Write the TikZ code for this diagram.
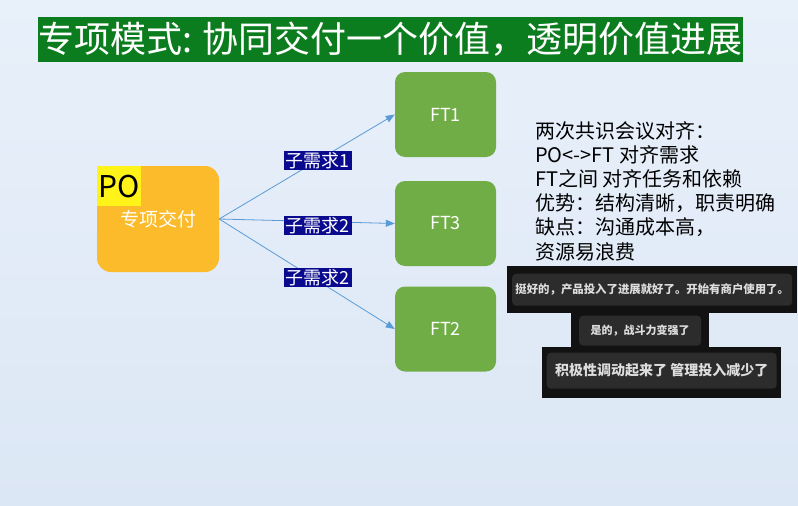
\documentclass[tikz,border=0pt]{standalone}
\usepackage{fontspec}
\setmainfont{Noto Sans CJK SC}
\usetikzlibrary{arrows.meta}
\definecolor{bgtop}{HTML}{E8F0FA}
\definecolor{bgbot}{HTML}{DCE7F5}
\definecolor{titlegreen}{HTML}{0C7D1E}
\definecolor{poorange}{HTML}{FBBB2A}
\definecolor{ftgreen}{HTML}{70AD47}
\definecolor{edgeblue}{HTML}{5B9BD5}
\definecolor{labnavy}{HTML}{0A0A8E}
\definecolor{chatouter}{HTML}{121212}
\definecolor{chatinner}{HTML}{2C2C2C}
\definecolor{chattext}{HTML}{DDDDDD}
\tikzset{
  ftbox/.style={draw=none,fill=ftgreen,rounded corners=10pt,minimum width=101pt,minimum height=85pt,text=white,font=\fontsize{18}{20}\selectfont,inner sep=0pt},
  sublabel/.style={fill=labnavy,text=white,font=\fontsize{18}{20}\selectfont,inner xsep=2pt,inner ysep=1pt,pos=0.56},
  conn/.style={draw=edgeblue,line width=0.8pt,-{Triangle[length=9pt,width=7pt]}},
  chatout/.style={fill=chatouter,draw=none,inner sep=0pt,anchor=north west},
  chatin/.style={fill=chatinner,draw=none,rounded corners=4pt,inner sep=0pt,text=chattext,font=\bfseries},
}
\begin{document}
\begin{tikzpicture}[x=1pt,y=-1pt]
\shade[top color=bgtop,bottom color=bgbot] (0,0) rectangle (798,506);
\useasboundingbox (0,0) rectangle (798,506);
% title
\node[fill=titlegreen,text=white,minimum width=705pt,minimum height=45pt,inner sep=0pt,font=\fontsize{36}{38}\selectfont] (title) at (390.5,39.5) {专项模式: 协同交付一个价值，透明价值进展};
% PO box
\node[fill=poorange,rounded corners=14pt,minimum width=122pt,minimum height=106pt,inner sep=0pt,text=white,font=\fontsize{19}{21}\selectfont] (po) at (158,219) {\raisebox{-6pt}{专项交付}};
\node[fill=yellow!90!white,anchor=north west,minimum width=44pt,minimum height=40pt,inner sep=0pt,font=\fontsize{30}{32}\selectfont,text=black] (potag) at (97,166) {PO};
% FT boxes
\node[ftbox] (ft1) at (445.5,114.5) {FT1};
\node[ftbox] (ft3) at (445.5,223.5) {FT3};
\node[ftbox] (ft2) at (445.5,329) {FT2};
% connectors
\draw[conn] (po.east) -- node[sublabel] (l1) {子需求1} (ft1.west);
\draw[conn] (po.east) -- node[sublabel,yshift=-4pt] (l2) {子需求2} (ft3.west);
\draw[conn] (po.east) -- node[sublabel,yshift=3pt] (l3) {子需求2} (ft2.west);
% notes
\node[anchor=north west,align=left,inner sep=0pt,font=\fontsize{20}{24.2}\selectfont] (notes) at (535,121) {两次共识会议对齐：\\PO<->FT 对齐需求\\FT之间 对齐任务和依赖\\优势：结构清晰，职责明确\\缺点：沟通成本高，\\资源易浪费};
% chat bubbles
\node[chatout,minimum width=290pt,minimum height=47pt] (c1o) at (507,266) {};
\node[chatin,minimum width=280pt,minimum height=32pt,font=\bfseries\fontsize{11.4}{13}\selectfont] (c1) at (c1o.center) {挺好的，产品投入了进展就好了。开始有商户使用了。};
\node[chatout,minimum width=138pt,minimum height=35pt] (c2o) at (571,313) {};
\node[chatin,minimum width=122pt,minimum height=30pt,font=\bfseries\fontsize{11}{13}\selectfont] (c2) at (c2o.center) {是的，战斗力变强了};
\node[chatout,minimum width=239pt,minimum height=51pt] (c3o) at (542,347) {};
\node[chatin,minimum width=230pt,minimum height=36pt,font=\bfseries\fontsize{14}{16}\selectfont] (c3) at ([yshift=2pt]c3o.center) {积极性调动起来了 管理投入减少了};
\end{tikzpicture}
\end{document}
